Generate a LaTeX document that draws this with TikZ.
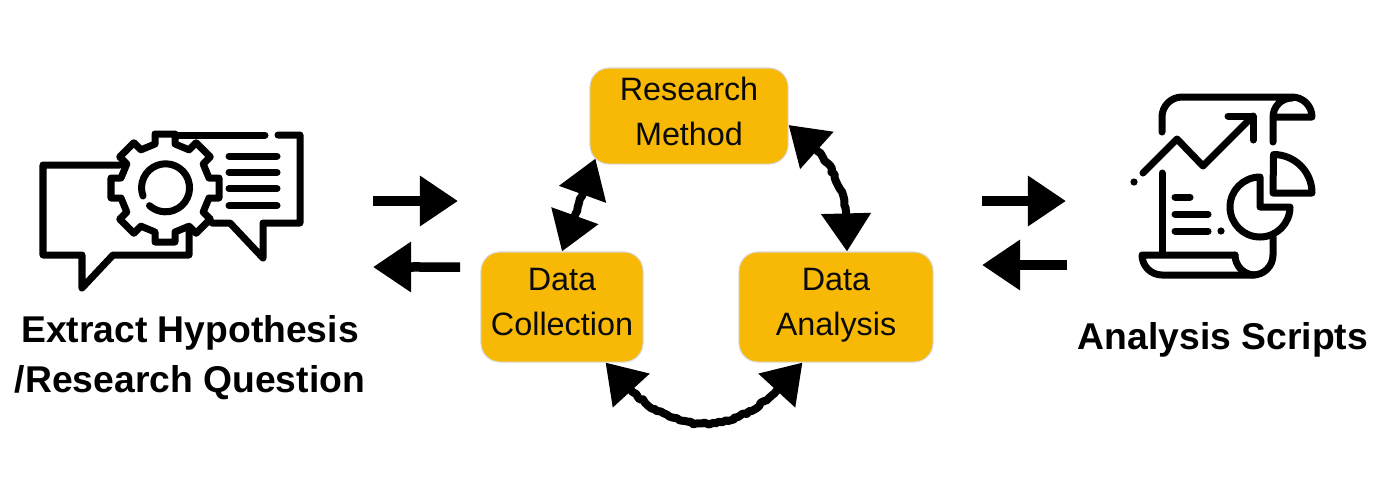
\documentclass[tikz,border=0pt]{standalone}
\usepackage{xcolor}
\usepackage{fontspec}
\setmainfont{Liberation Sans}
\usetikzlibrary{arrows.meta,decorations.pathmorphing}
\definecolor{amberbox}{HTML}{F7B906}
\definecolor{ink}{HTML}{0A0A0A}
\newcommand{\stagetext}[2]{#1\\#2\rule[-1mm]{0pt}{1mm}}
\tikzset{
  stagebox/.style={rectangle, rounded corners=1.9mm, draw=black!15, fill=amberbox, line width=0.3pt,
              align=center, inner sep=0pt, text=ink, font=\fontsize{9.2}{12.8}\selectfont},
  iconlabel/.style={align=center, text=black, font=\fontsize{10.6}{14.2}\selectfont\bfseries},
  icon/.style={draw=black, line width=0.7mm, line cap=round, line join=round},
  rough/.style={decorate, line join=round, decoration={random steps, segment length=1pt, amplitude=0.4pt, pre length=4mm, post length=4mm}},
  oneway/.style={-{Triangle[length=3.8mm, width=4.8mm]}, draw=black, fill=black, line width=0.95mm, rough},
  twoway/.style={{Triangle[length=3.8mm, width=4.8mm]}-{Triangle[length=3.8mm, width=4.8mm]}, draw=black, line width=0.8mm, rough}
}
\begin{document}
\begin{tikzpicture}[x=0.01cm, y=-0.01cm]
  \useasboundingbox (0,0) rectangle (1400,478);

  \node[stagebox, minimum width=1.98cm, minimum height=0.96cm] (method) at (689,116) {\stagetext{Research}{Method}};
  \node[stagebox, minimum width=1.62cm, minimum height=1.10cm] (collect) at (562,307) {\stagetext{Data}{Collection}};
  \node[stagebox, minimum width=1.94cm, minimum height=1.10cm] (analysis) at (836,307) {\stagetext{Data}{Analysis}};

  \node[iconlabel] (question) at (190,358) {Extract Hypothesis\\/Research Question};
  \node[iconlabel] (scripts) at (1223,340) {Analysis Scripts};

  \draw[twoway] (collect.north) -- ([xshift=0.06cm,yshift=0.06cm]method.south west);
  \draw[twoway] ([yshift=-0.09cm]method.east) to[bend left=30] ([xshift=0.11cm]analysis.north);
  \draw[twoway] ([xshift=-0.38cm]collect.south east) to[bend right=52, looseness=1.35] ([xshift=0.64cm]analysis.south west);

  \coordinate (askfrom) at (373,201);
  \coordinate (askto) at (458,201);
  \coordinate (backfrom) at (460,267);
  \coordinate (backto) at (373,267);
  \coordinate (runfrom) at (982,201);
  \coordinate (runto) at (1066,201);
  \coordinate (resultfrom) at (1067,265);
  \coordinate (resultto) at (982,265);
  \foreach \a/\b in {askfrom/askto, backfrom/backto, runfrom/runto, resultfrom/resultto}
    { \draw[oneway] (\a) -- (\b); }

  \draw[icon] (120,165) -- (43,165) -- (43,255) -- (82,255) -- (82,288) -- (113,255) -- (189,255) -- (189,230);
  \draw[icon] (155,142) -- (155,135) -- (265,135);
  \draw[icon] (278,135) -- (300,135) -- (300,223) -- (263,223) -- (263,258) -- (230,223) -- (212,223);
  \fill[white] (165,188) circle (44);
  \foreach \a in {0,45,...,315}
    { \begin{scope}[shift={(165,188)}, rotate=\a]
        \fill[white] (0,0) -- (44,10) -- (54,10) -- (54,-10) -- (44,-10) -- (38.2,-24) -- cycle;
        \draw[icon] (44,10) -- (54,10) -- (54,-10) -- (44,-10) -- (38.2,-24);
      \end{scope} }
  \draw[icon] (143,196) arc (160:492:24);
  \foreach \y in {156,172.3,188.7,205.7}
    { \draw[icon] (229,\y) -- (277,\y); }

  \draw[icon] (1162,132) -- (1162,117) arc (180:270:20) -- (1292,97) arc (270:360:20) -- (1273,117) arc (180:270:19) (1273,117) -- (1273,142);
  \draw[icon] (1143,173) -- (1177,139) -- (1203,166) -- (1253,116);
  \draw[icon] (1228,116) -- (1253,116) -- (1253,140);
  \fill[black] (1134,182) circle (3.6);
  \draw[icon] (1162,173) -- (1162,253);
  \draw[icon] (1235,255) -- (1142,255) arc (180:90:20) -- (1253,275) arc (90:0:20) -- (1273,237);
  \draw[icon] (1235,255) arc (180:90:20);
  \draw[icon] (1175,197) -- (1190,197);
  \draw[icon] (1175,214) -- (1208,214);
  \draw[icon] (1175,231) -- (1208,231);
  \fill[black] (1221,231) circle (3.6);
  \draw[icon] (1260,177) arc (270:0:30) -- (1260,207) -- cycle;
  \draw[icon] (1312,193) arc (0:-90:38.5) -- (1273,193) -- cycle;
\end{tikzpicture}
\end{document}
